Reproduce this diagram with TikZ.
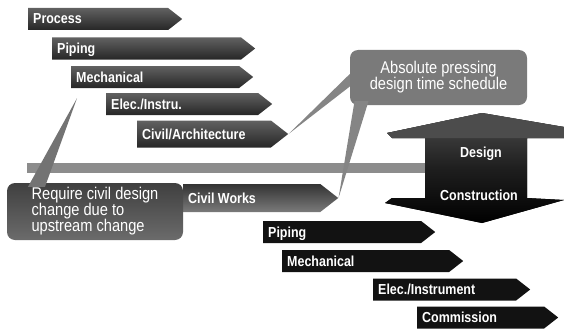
\documentclass[tikz,border=0pt]{standalone}
\usepackage{fontspec}
\setmainfont{Liberation Sans}
\newfontfamily\narrowfont[FakeStretch=0.86]{Liberation Sans}
\usetikzlibrary{shapes.symbols}

\tikzset{
	phase/.style={signal, signal to=east, signal pointer angle=76, draw=none, minimum height=22pt, inner sep=0pt, anchor=west},
	phasetext/.style={anchor=west, xshift=5pt, inner sep=0pt, text=white, text height=10pt, text depth=0pt, font=\narrowfont\fontsize{14.5}{16}\selectfont\bfseries},
	designbar/.style={phase, top color=black!62, bottom color=black!85},
	worksbar/.style={phase, top color=black!80, bottom color=black!52},
	buildbar/.style={phase, fill=black!93},
	callout/.style={rounded corners=8pt, text=white, font=\narrowfont\fontsize{17}{16}\selectfont, inner sep=4pt},
	pointer/.style={fill=black!48},
}

\begin{document}
\begin{tikzpicture}[x=1pt, y=-1pt]
	\useasboundingbox (0,0) rectangle (564,329);

	% the band running into the double arrow
	\fill[black!45] (27,163) rectangle (425,173);

	% design phases
	\node[designbar, minimum width=154pt, label={[phasetext]west:Process}] (process) at (28,19) {};
	\node[designbar, minimum width=203pt, label={[phasetext]west:Piping}] (piping) at (52,48.5) {};
	\node[designbar, minimum width=182pt, label={[phasetext]west:Mechanical}] (mech) at (71,77) {};
	\node[designbar, minimum width=166pt, label={[phasetext]west:Elec./Instru.}] (elec) at (106,104) {};
	\node[designbar, minimum width=151pt, minimum height=27pt, label={[phasetext]west:Civil/Architecture}] (arch) at (137,134) {};
	\node[worksbar, minimum width=155pt, minimum height=28pt, label={[phasetext]west:Civil Works}] (works) at (183,198) {};

	% callouts
	\coordinate (reqtip) at ([xshift=6pt, yshift=-10pt]mech.south west);
	\node[callout, fill=black!52, minimum width=177pt, minimum height=55pt, align=center] (sched) at (438.5,77.5)
		{Absolute pressing\\design time schedule};
	\node[callout, top color=black!75, bottom color=black!58, minimum width=176pt, minimum height=57pt, align=left] (req) at (95,211.5)
		{Require civil design\\change due to\\upstream change};
	\fill[pointer] ([yshift=3.5pt]sched.west) -- (arch.east) -- ([yshift=-9pt]sched.west) -- cycle;
	\fill[pointer] ([xshift=-84pt, yshift=4pt]sched.south) -- (works.east) -- ([xshift=-70pt, yshift=4pt]sched.south) -- cycle;
	\fill[pointer, fill=black!55] ([xshift=-67pt, yshift=-4pt]req.north) -- (reqtip) -- ([xshift=-50pt, yshift=-4pt]req.north) -- cycle;

	% double arrow
	\fill[top color=black!70, bottom color=black, middle color=black!88]
		(482,113) -- (564,127) -- (564,138) -- (527,138) -- (527,198) -- (564,200) -- (482,223)
		-- (385,203) -- (392,198) -- (425,198) -- (425,138) -- (392,138) -- (387,133) -- cycle;
	\fill[black!70] (482,113) -- (564,127) -- (564,138) -- (392,138) -- (387,133) -- cycle;
	\node[phasetext, anchor=center, xshift=0pt] (design) at (476,152) {Design};
	\node[phasetext, anchor=center, xshift=0pt] (construction) at (474,195) {Construction};

	% construction phases
	\node[buildbar, minimum width=172pt, label={[phasetext]west:Piping}] (piping2) at (263,232) {};
	\node[buildbar, minimum width=181pt, label={[phasetext]west:Mechanical}] (mech2) at (282,261) {};
	\node[buildbar, minimum width=157pt, label={[phasetext]west:Elec./Instrument}] (elec2) at (373,289.5) {};
	\node[buildbar, minimum width=141pt, label={[phasetext]west:Commission}] (commission) at (417,317.5) {};
\end{tikzpicture}
\end{document}
